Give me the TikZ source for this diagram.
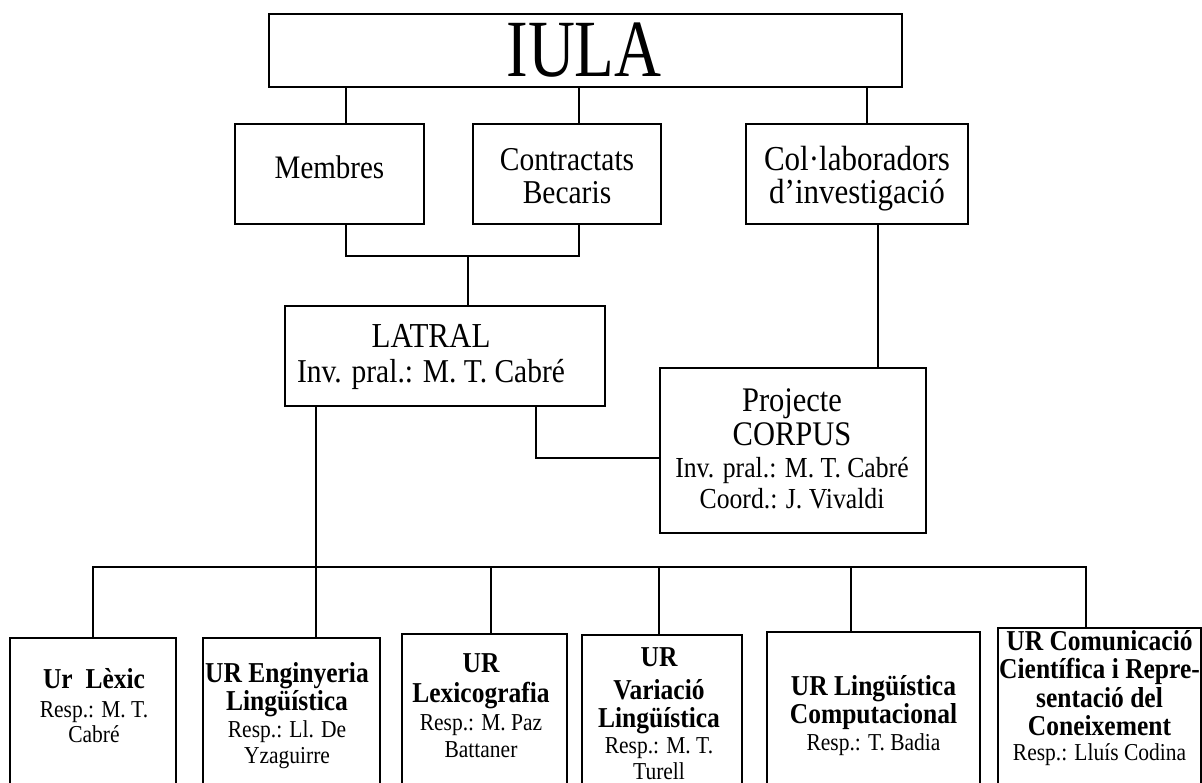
\documentclass[tikz,border=0pt]{standalone}
\usepackage{fontspec}
\setmainfont{Liberation Serif}
\usepackage{graphicx}
\newcommand\vsf{1.13}
\newcommand\fz[1]{\fontsize{#1}{#1}\selectfont}
\newcommand\fzb[1]{\fontsize{#1}{#1}\selectfont\bfseries}
\tikzset{
  box/.style={draw, line width=1.8pt, inner sep=0pt, outer sep=0pt, anchor=north west},
  tl/.style={anchor=base, inner sep=0pt, outer sep=0pt},
  conn/.style={line width=1.5pt},
}
\newcommand\tline[5]{\node[tl,font=#2] (#1) at (#3,#4) {\scalebox{1}[\vsf]{#5}};}
\newcommand\bx[5]{\node[box, minimum width={(#4-#2)*1pt}, minimum height={(#5-#3)*1pt}] (#1) at (#2,#3) {};}
\begin{document}
\begin{tikzpicture}[x=1pt,y=-1pt]
\useasboundingbox (0,0) rectangle (1202,783);
\fill[white] (0,0) rectangle (1202,783);
\clip (0,0) rectangle (1202,783);
% boxes
\bx{iula}{269}{14}{902}{87}
\bx{mem}{235}{124}{424}{224}
\bx{con}{473}{124}{661}{224}
\bx{col}{746}{124}{968}{224}
\bx{lat}{285}{306}{605}{406}
\bx{proj}{660}{368}{926}{533}
\bx{ur1}{10}{638}{176}{800}
\bx{ur2}{203}{638}{380}{800}
\bx{ur3}{402}{634}{567}{800}
\bx{ur4}{582}{635}{742}{800}
\bx{ur5}{767}{632}{980}{800}
\bx{ur6}{998}{628}{1201}{800}
% connectors
\draw[conn] (iula.south -| 346,0) -- (mem.north -| 346,0);
\draw[conn] (iula.south -| 579,0) -- (con.north -| 579,0);
\draw[conn] (iula.south -| 867,0) -- (col.north -| 867,0);
\coordinate (j1) at (468,256);
\draw[conn] (mem.south -| 346,0) |- (j1) -| (con.south -| 579,0);
\draw[conn] (j1) -- (lat.north -| j1);
\draw[conn] (col.south -| 878,0) -- (proj.north -| 878,0);
\draw[conn] (lat.south -| 536,0) |- (proj.west |- 0,458);
\draw[conn] (lat.south -| 316,0) -- (ur2.north -| 316,0);
\coordinate (busL) at (93,567);
\coordinate (busR) at (1086,567);
\draw[conn] (ur1.north -| busL) |- (busR) -- (ur6.north -| busR);
\draw[conn] (ur3.north -| 491,0) -- (busL -| 491,0);
\draw[conn] (ur4.north -| 659,0) -- (busL -| 659,0);
\draw[conn] (ur5.north -| 851,0) -- (busL -| 851,0);
% texts
\node[tl,font=\fz{65}] (t-iula) at (584,77) {\scalebox{1}[1.25]{IULA}};
\tline{t-mem}{\fz{29}}{329.5}{179}{Membres}
\tline{t-con1}{\fz{29.5}}{567}{170.5}{Contractats}
\tline{t-con2}{\fz{29.5}}{567}{204}{Becaris}
\tline{t-col1}{\fz{31}}{857}{171}{Col·laboradors}
\tline{t-col2}{\fz{31}}{857}{204}{d’investigació}
\tline{t-lat1}{\fz{31}}{431}{348}{LATRAL}
\tline{t-lat2}{\fz{29.5}}{431}{383}{Inv. pral.: M. T. Cabré}
\tline{t-pr1}{\fz{30.5}}{792}{411}{Projecte}
\tline{t-pr2}{\fz{30.5}}{792}{445}{CORPUS}
\tline{t-pr3}{\fz{25.7}}{792}{477}{Inv. pral.: M. T. Cabré}
\tline{t-pr4}{\fz{25.7}}{792}{508}{Coord.: J. Vivaldi}
% UR Lexic
\tline{t-u1a}{\fzb{25.5}}{94}{688}{Ur~~Lèxic}
\tline{t-u1b}{\fz{21.5}}{94}{717}{Resp.: M. T.}
\tline{t-u1c}{\fz{21.5}}{94}{742}{Cabré}
% UR Enginyeria
\tline{t-u2a}{\fzb{25.5}}{287}{682}{UR Enginyeria}
\tline{t-u2b}{\fzb{25.5}}{287}{710}{Lingüística}
\tline{t-u2c}{\fz{21.5}}{287}{737}{Resp.: Ll. De}
\tline{t-u2d}{\fz{21.5}}{287}{763}{Yzaguirre}
% UR Lexicografia
\tline{t-u3a}{\fzb{25.5}}{481}{672}{UR}
\tline{t-u3b}{\fzb{25.5}}{481}{702}{Lexicografia}
\tline{t-u3c}{\fz{21.5}}{481}{730}{Resp.: M. Paz}
\tline{t-u3d}{\fz{21.5}}{481}{757}{Battaner}
% UR Variacio
\tline{t-u4a}{\fzb{25.5}}{659}{666.5}{UR}
\tline{t-u4b}{\fzb{25.5}}{659}{699}{Variació}
\tline{t-u4c}{\fzb{25.5}}{659}{727}{Lingüística}
\tline{t-u4d}{\fz{21.5}}{659}{753}{Resp.: M. T.}
\tline{t-u4e}{\fz{21.5}}{659}{779.5}{Turell}
% UR Linguistica Computacional
\tline{t-u5a}{\fzb{25.5}}{873.5}{695}{UR Lingüística}
\tline{t-u5b}{\fzb{25.5}}{873.5}{723}{Computacional}
\tline{t-u5c}{\fz{21.5}}{873.5}{750}{Resp.: T. Badia}
% UR Comunicacio
\tline{t-u6a}{\fzb{25.5}}{1099.5}{650}{UR Comunicació}
\tline{t-u6b}{\fzb{25.5}}{1099.5}{678}{Científica i Repre-}
\tline{t-u6c}{\fzb{25.5}}{1099.5}{707}{sentació del}
\tline{t-u6d}{\fzb{25.5}}{1099.5}{735}{Coneixement}
\tline{t-u6e}{\fz{21.5}}{1099.5}{760}{Resp.: Lluís Codina}
\end{tikzpicture}
\end{document}
